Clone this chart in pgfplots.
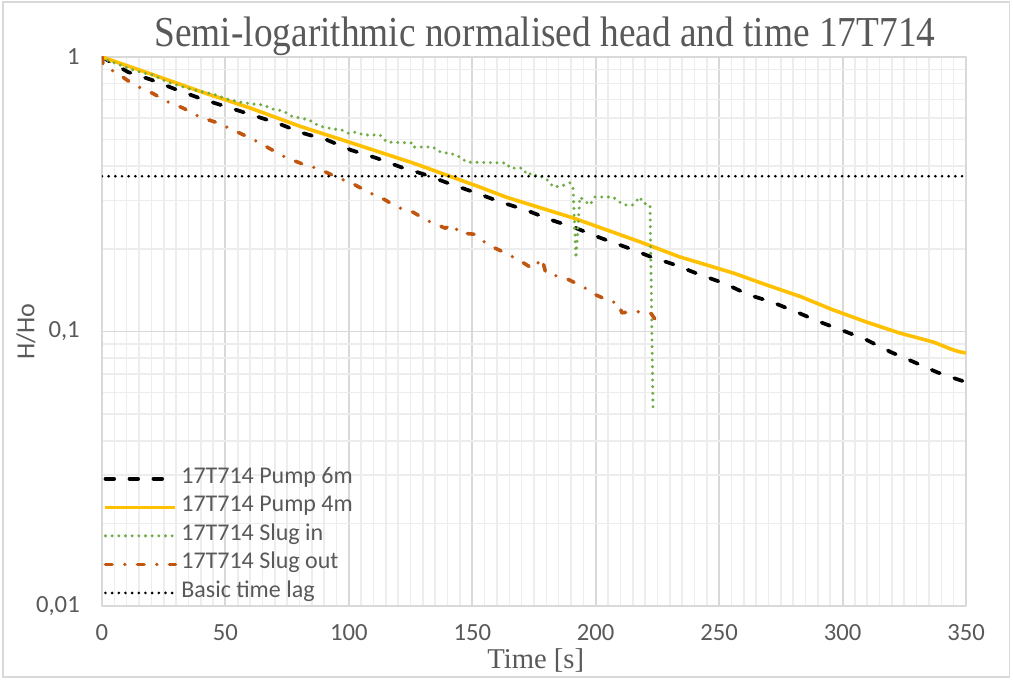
\documentclass[border=0pt]{standalone}
\usepackage{graphicx}
\usepackage{pgfplots}
\pgfplotsset{compat=1.18}
\usepackage{fontspec}
\setmainfont{Carlito}
\newfontfamily\timesfont{Liberation Serif}
\definecolor{txt}{HTML}{595959}
\definecolor{pumpfour}{HTML}{FFC000}
\definecolor{slugin}{HTML}{70AD47}
\definecolor{slugout}{HTML}{C0560F}
\definecolor{majgrid}{HTML}{D9D9D9}
\definecolor{mingrid}{HTML}{EDEDED}
\begin{document}
\begin{tikzpicture}
\path[use as bounding box] (0,0) rectangle (759.75pt,510pt);
\draw[majgrid, line width=1.2pt] (2.25pt,2.25pt) rectangle (757pt,508.5pt);
\begin{axis}[
  at={(76.5pt,55.5pt)}, anchor=south west,
  scale only axis, width=648pt, height=411.75pt,
  ymode=log, xmin=0, xmax=350, ymin=0.01, ymax=1,
  xtick={0,50,...,350}, minor x tick num=9,
  ytick={0.01,0.1,1}, yticklabels={{0,01},{0,1},{1}},
  /pgf/number format/assume math mode=true,
  grid=both,
  major grid style={draw=majgrid, line width=1.4pt},
  minor grid style={draw=mingrid, line width=1.2pt},
  axis line style={draw=majgrid, line width=1.4pt},
  major tick length=0pt, minor tick length=0pt,
  tick label style={font=\fontsize{18.5}{22}\selectfont, text=txt},
  xticklabel style={anchor=north, inner sep=0pt, yshift=-13.5pt},
  yticklabel style={anchor=east, inner sep=0pt, xshift=-16.5pt},
  title={\scalebox{0.875}[1]{Semi-logarithmic normalised head and time 17T714}},
  title style={at={(axis description cs:0.5127,1.0237)}, anchor=center, yshift=0pt, font=\timesfont\fontsize{32}{36}\selectfont, text=txt},
  xlabel={Time [s]},
  xlabel style={at={(axis description cs:0.502,-0.0984)}, anchor=center, font=\timesfont\fontsize{21.5}{24}\selectfont, text=txt},
  ylabel={H/Ho},
  ylabel style={at={(axis description cs:-0.088,0.5)}, anchor=center, font=\fontsize{19.5}{22}\selectfont, text=txt},
  legend cell align=left,
  legend style={at={(axis description cs:0,0)}, anchor=south west, draw=none, fill=none, inner sep=0pt,
    xshift=1pt, yshift=-1.1pt, font=\fontsize{18}{22}\selectfont, text=txt,
    column sep=3pt, row sep=0pt,
    nodes={inner sep=0pt, text height=14pt, text depth=7.4pt}},
  legend image code/.code={\draw[#1] (0pt,0pt) -- (52.5pt,0pt);},
  line join=round,
]
\addplot[black, line width=2.8pt, line cap=round, dash pattern=on 6.5pt off 11.5pt] coordinates {
(0,1) (10.5,0.882) (20.3,0.824) (30.4,0.759) (40.5,0.703) (50.6,0.658) (60.8,0.615) (70.9,0.575) (81.4,0.528) (91.1,0.499) (100.9,0.458) (111,0.429) (121.1,0.397) (131.2,0.372) (141.4,0.344) (151.5,0.320) (161.6,0.296) (171.7,0.277) (181.9,0.255) (192,0.238) (202.1,0.219) (212.2,0.203) (222.4,0.187) (232.1,0.175) (242.2,0.161) (251.9,0.150) (262,0.136) (271.4,0.128) (281.1,0.118) (291.2,0.108) (300.5,0.1005) (309.8,0.0931) (319.6,0.0841) (328.9,0.0774) (338.2,0.0711) (347.5,0.0665) (350,0.0655)
};
\addlegendentry{17T714 Pump 6m}
\addplot[pumpfour, line width=2.7pt] coordinates {
(0,1) (20,0.866) (40,0.748) (60,0.652) (80,0.56) (100,0.490) (126,0.411) (153,0.336) (164,0.308) (191,0.259) (218,0.212) (234,0.187) (242,0.178) (256,0.163) (269,0.148) (283,0.134) (296,0.120) (310,0.108) (323,0.0988) (337,0.0914) (344,0.0862) (347,0.0845) (350,0.0835)
};
\addlegendentry{17T714 Pump 4m}
\addplot[slugin, line width=2.5pt, line cap=round, dash pattern=on 0pt off 5pt] coordinates {
(0,1) (2,0.975) (7.3,0.935) (12.6,0.897) (16.6,0.874) (20.7,0.860) (26.3,0.811) (31.6,0.784) (35.6,0.765) (40.9,0.746) (45,0.733) (50.6,0.703) (55.9,0.685) (61.2,0.674) (65.2,0.669) (69.3,0.646) (73.3,0.636) (77.4,0.605) (80.2,0.600) (84.2,0.589) (85.5,0.575) (89.5,0.556) (93.6,0.547) (97.2,0.542) (99.6,0.528) (103.3,0.533) (105.7,0.520) (112.6,0.520) (115.4,0.490) (125.6,0.486) (126,0.470) (134,0.470) (137.7,0.447) (141,0.447) (145,0.432) (147.8,0.414) (164,0.411) (165.2,0.394) (170.5,0.394) (172.1,0.372) (174.6,0.378) (176.2,0.366) (178.6,0.366) (181.5,0.350) (182.7,0.336) (186.3,0.339) (189.5,0.348) (190.8,0.336) (192,0.185) (193.6,0.309) (197.6,0.289) (199.7,0.309) (207,0.309) (209.8,0.296) (211.8,0.289) (215,0.289) (217.9,0.309) (219.1,0.294) (222,0.289) (223.2,0.053)
};
\addlegendentry{17T714 Slug in}
\addplot[slugout, line width=2.7pt, line cap=round, dash pattern=on 5pt off 9.5pt on 0pt off 9.5pt] coordinates {
(0,1) (0.5,0.93) (6.1,0.874) (13,0.791) (20.3,0.739) (26.7,0.686) (32.8,0.652) (39.7,0.604) (47,0.575) (53.9,0.538) (60.8,0.503) (66.8,0.470) (74.1,0.432) (81.4,0.407) (87.9,0.391) (94.8,0.366) (101.7,0.345) (108.5,0.320) (114.6,0.302) (119.5,0.284) (126,0.272) (132,0.253) (139,0.238) (142.5,0.245) (144.5,0.229) (151,0.226) (156,0.208) (162.4,0.195) (169,0.182) (174.6,0.169) (178.2,0.185) (179.8,0.163) (181.5,0.162) (188.7,0.155) (195.2,0.145) (200,0.136) (206.6,0.128) (209,0.128) (210.6,0.117) (214.7,0.118) (220,0.118) (222.5,0.116) (224,0.111)
};
\addlegendentry{17T714 Slug out}
\addplot[black, line width=2.2pt, line cap=round, dash pattern=on 0pt off 5pt] coordinates {(0,0.3679) (350,0.3679)};
\addlegendentry{Basic time lag}
\end{axis}
\end{tikzpicture}
\end{document}
